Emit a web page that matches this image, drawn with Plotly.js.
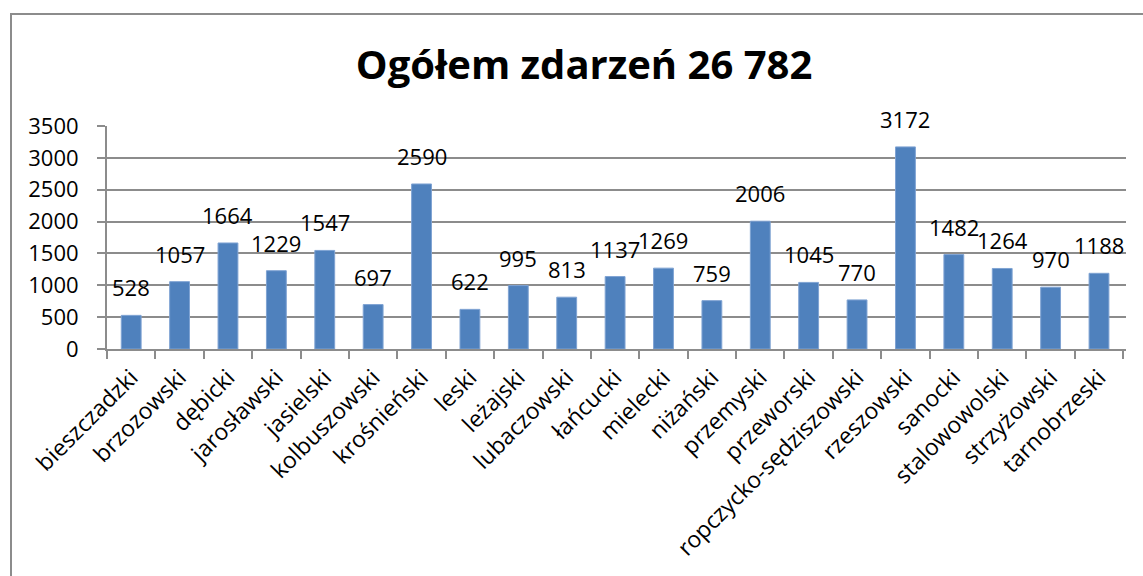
<!DOCTYPE html>
<html>
<head>
<meta charset="utf-8">
<script src="https://cdn.plot.ly/plotly-3.0.1.min.js"></script>
<style>
  html, body { margin: 0; padding: 0; background: #fff; }
  #wrap { position: relative; width: 1143px; height: 576px; }
  #chart { width: 1143px; height: 576px; }
  #frame { position: absolute; left: 10px; top: 13px; width: 1140px; height: 580px;
           border-left: 2px solid #8c8c8c; border-top: 2px solid #8c8c8c; pointer-events: none; }
</style>
</head>
<body>
<div id="wrap">
  <div id="chart"></div>
  <div id="frame"></div>
</div>
<script>
const categories = ["bieszczadzki","brzozowski","dębicki","jarosławski","jasielski","kolbuszowski","krośnieński","leski","leżajski","lubaczowski","łańcucki","mielecki","niżański","przemyski","przeworski","ropczycko-sędziszowski","rzeszowski","sanocki","stalowowolski","strzyżowski","tarnobrzeski"];
const values = [528,1057,1664,1229,1547,697,2590,622,995,813,1137,1269,759,2006,1045,770,3172,1482,1264,970,1188];
const titleText = "Ogółem zdarzeń 26 782";
const yTicks = [0,500,1000,1500,2000,2500,3000,3500];

const FONT = "'Open Sans', 'Noto Sans', sans-serif";

const trace = {
  type: "bar",
  x: categories,
  y: values,
  marker: { color: "#4F81BD", line: { color: "#7fa3d3", width: 1 } },
  hoverinfo: "x+y"
};

const annotations = categories.map((c, i) => ({
  x: c, y: values[i], xref: "x", yref: "y",
  text: String(values[i]), showarrow: false,
  yanchor: "bottom", xanchor: "center", yshift: 11,
  font: { family: FONT, size: 22, color: "#000" }
}));

const layout = {
  width: 1143, height: 576,
  margin: { l: 107, r: 17, t: 126, b: 227, pad: 0 },
  paper_bgcolor: "#fff", plot_bgcolor: "#fff",
  showlegend: false,
  bargap: 0.59,
  title: {
    text: "<b>" + titleText + "</b>",
    font: { family: FONT, size: 40, color: "#000" },
    x: 0.511, xref: "container", xanchor: "center",
    y: 1 - 65/576, yref: "container", yanchor: "middle"
  },
  xaxis: {
    type: "category",
    tickangle: -45,
    tickfont: { family: FONT, size: 23, color: "#000" },
    showline: true, linecolor: "#8c8c8c", linewidth: 2,
    ticks: "outside", ticklen: 8, tickcolor: "#8c8c8c", tickwidth: 2,
    tickson: "boundaries",
    ticklabelstandoff: 4,
    showgrid: false, zeroline: false,
    automargin: false
  },
  yaxis: {
    range: [0, 3500],
    tickvals: yTicks,
    tickfont: { family: FONT, size: 22, color: "#000" },
    showline: true, linecolor: "#8c8c8c", linewidth: 2,
    ticks: "outside", ticklen: 8, tickcolor: "#8c8c8c", tickwidth: 2,
    ticklabelstandoff: 14,
    showgrid: true, gridcolor: "#8c8c8c", gridwidth: 2,
    zeroline: false,
    automargin: false
  },
  annotations: annotations
};

Plotly.newPlot("chart", [trace], layout, { displayModeBar: false, staticPlot: true });
</script>
</body>
</html>
